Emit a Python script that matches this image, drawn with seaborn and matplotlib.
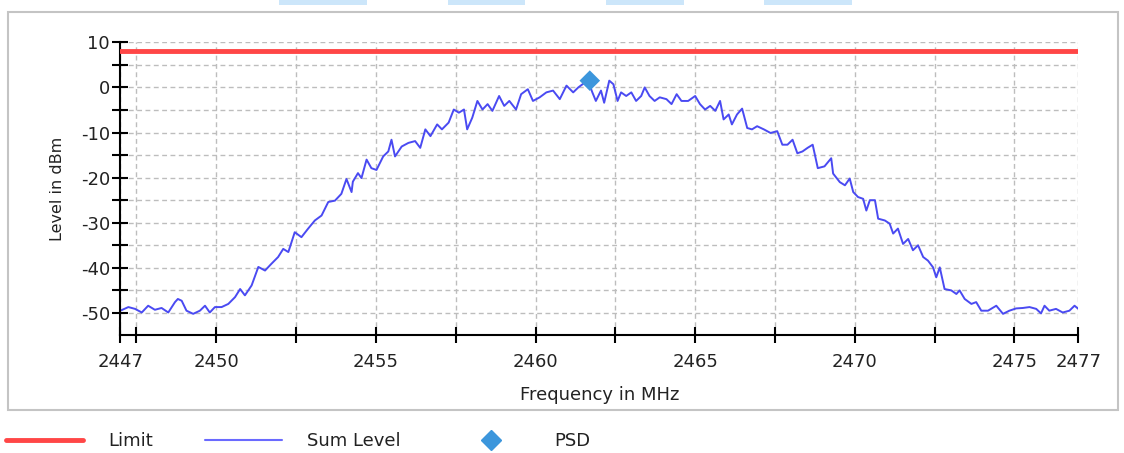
import seaborn as sns
import matplotlib.pyplot as plt
from matplotlib.lines import Line2D
from matplotlib.patches import Rectangle

# spectrum trace (MHz, dBm)
freq = [2447.0, 2447.25, 2447.46, 2447.67, 2447.87, 2448.08, 2448.29, 2448.5, 2448.71, 2448.8,
        2448.92, 2449.07, 2449.28, 2449.49, 2449.65, 2449.8, 2449.96, 2450.17, 2450.38, 2450.59,
        2450.75, 2450.9, 2451.11, 2451.32, 2451.53, 2451.73, 2451.94, 2452.1, 2452.26, 2452.46,
        2452.67, 2452.88, 2453.09, 2453.3, 2453.51, 2453.72, 2453.92, 2454.08, 2454.24,
        2454.28, 2454.44, 2454.55, 2454.71, 2454.86, 2455.02, 2455.23, 2455.39, 2455.49, 2455.6,
        2455.81, 2456.02, 2456.23, 2456.39, 2456.55, 2456.71, 2456.92, 2457.07, 2457.28, 2457.44,
        2457.6, 2457.76, 2457.86, 2458.02, 2458.18, 2458.34, 2458.5, 2458.65, 2458.86, 2459.02,
        2459.18, 2459.39, 2459.55, 2459.76, 2459.92, 2460.13, 2460.34, 2460.55, 2460.76, 2460.97,
        2461.18, 2461.34, 2461.55, 2461.68,
        2461.78, 2461.89, 2462.05, 2462.15, 2462.31, 2462.44, 2462.57, 2462.68, 2462.84, 2463.0,
        2463.15, 2463.31, 2463.42, 2463.57, 2463.73, 2463.89, 2464.1, 2464.26, 2464.42, 2464.57,
        2464.78, 2465.0, 2465.15, 2465.31, 2465.47, 2465.63, 2465.78, 2465.89, 2466.05, 2466.15,
        2466.31, 2466.47, 2466.63, 2466.78, 2466.94, 2467.15, 2467.36, 2467.57, 2467.73, 2467.89,
        2468.05, 2468.2, 2468.36, 2468.52, 2468.68, 2468.84, 2469.05, 2469.26,
        2469.32, 2469.53, 2469.69, 2469.84, 2469.95, 2470.1, 2470.26, 2470.36, 2470.47, 2470.63,
        2470.73, 2470.94, 2471.09, 2471.2, 2471.35, 2471.51, 2471.67, 2471.82, 2471.98, 2472.14,
        2472.29, 2472.45, 2472.55, 2472.66, 2472.81, 2473.02, 2473.18, 2473.28, 2473.44, 2473.65,
        2473.8, 2473.96, 2474.17, 2474.43, 2474.64, 2474.84, 2475.05, 2475.26, 2475.47, 2475.68,
        2475.83, 2475.94, 2476.09, 2476.3, 2476.51, 2476.72, 2476.88, 2477.0]
level = [-49.5, -48.7, -49.1, -49.9, -48.4, -49.3, -48.9, -49.9, -47.6, -46.9,
         -47.3, -49.5, -50.2, -49.5, -48.4, -49.9, -48.7, -48.7, -48.0, -46.5,
         -44.7, -46.1, -43.9, -39.8, -40.6, -39.1, -37.6, -35.8, -36.5, -32.1,
         -33.2, -31.3, -29.5, -28.4, -25.4, -25.1, -23.6, -20.3, -23.2,
         -20.9, -19.0, -20.1, -16.0, -17.9, -18.3, -15.3, -14.2, -11.6, -15.3,
         -13.1, -12.3, -11.9, -13.4, -9.3, -10.8, -8.2, -9.3, -7.8, -4.9,
         -5.6, -4.9, -9.3, -6.7, -3.0, -4.9, -3.7, -5.2, -1.9, -4.1,
         -3.0, -4.9, -1.5, -0.4, -3.0, -2.2, -1.1, -0.7, -2.6, 0.4,
         -1.1, 0.0, 1.1, 0.8,
         -1.1, -3.0, -0.7, -3.4, 1.5, 0.7, -3.0, -1.1, -1.9, -1.1,
         -3.0, -1.9, 0.0, -1.9, -3.0, -2.2, -2.6, -3.7, -1.5, -3.0,
         -3.0, -1.9, -3.7, -4.9, -4.1, -5.2, -3.0, -7.1, -6.0, -8.2,
         -6.0, -4.7, -9.0, -9.3, -8.6, -9.3, -10.1, -9.7, -12.7, -12.7,
         -11.6, -14.6, -14.2, -13.4, -12.7, -17.9, -17.5, -15.7,
         -19.1, -21.0, -21.7, -20.2, -23.2, -24.3, -24.7, -27.3, -25.0, -25.0,
         -29.1, -29.5, -30.2, -32.4, -31.3, -34.7, -33.6, -36.1, -35.0, -37.6,
         -38.4, -39.9, -42.1, -39.9, -44.7, -45.0, -45.8, -45.0, -46.9, -48.0,
         -47.6, -49.5, -49.5, -48.4, -50.2, -49.5, -49.0, -48.9, -48.7, -49.1,
         -50.1, -48.4, -49.5, -49.1, -49.9, -49.5, -48.4, -49.1]

limit_level = 8.0
psd_freq = [2461.7]
psd_level = [1.5]

x_ticks = [2447, 2447.5, 2450, 2452.5, 2455, 2457.5, 2460, 2462.5,
           2465, 2467.5, 2470, 2472.5, 2475, 2477]
x_labels = ['2447', '', '2450', '', '2455', '', '2460', '',
            '2465', '', '2470', '', '2475', '2477']
y_ticks = [-50, -45, -40, -35, -30, -25, -20, -15, -10, -5, 0, 5, 10]
y_labels = ['-50', '', '-40', '', '-30', '', '-20', '', '-10', '', '0', '', '10']

sns.set_style('white')
plt.rcParams['font.family'] = ['DejaVu Sans']
txt = '#222222'

fig = plt.figure(figsize=(11.24, 4.53), dpi=100)
ax = fig.add_axes([0.1071, 0.2594, 0.8523, 0.6472])

sns.lineplot(x=freq, y=level, color='#4a4af2', lw=1.4, ax=ax)
ax.axhline(limit_level, color='#ff4646', lw=3.5, zorder=3)
sns.scatterplot(x=psd_freq, y=psd_level, marker='D', s=110, color='#3c96dc',
                edgecolor='none', ax=ax, zorder=4)

ax.set_xlim(2447, 2477)
ax.set_ylim(-55, 10)
ax.set_xticks(x_ticks)
ax.set_xticklabels(x_labels)
ax.set_yticks(y_ticks)
ax.set_yticklabels(y_labels)

ax.set_axisbelow(True)
ax.grid(True, color='#bdbdbd', linestyle=(0, (3.5, 2.5)), lw=1)
sns.despine(ax=ax)
for s in ['left', 'bottom']:
    ax.spines[s].set_color('black')
    ax.spines[s].set_linewidth(1.5)
ax.tick_params(bottom=True, left=True, direction='inout', length=11, width=1.5,
               color='black', labelsize=13, labelcolor=txt)
ax.tick_params(axis='x', pad=7)
ax.tick_params(axis='y', pad=2)

ax.set_xlabel('Frequency in MHz', fontsize=13, color=txt)
ax.xaxis.set_label_coords(0.5, -0.203)
ax.xaxis.label.set_va('center')
ax.set_ylabel('Level in dBm', fontsize=11.5, color=txt)
ax.yaxis.set_label_coords(-0.066, 0.5)
ax.yaxis.label.set_va('center')

# panel frame and the bits of toolbar peeking in at the top
fig.add_artist(Rectangle((0.0071, 0.0949), 0.9875, 0.8786, transform=fig.transFigure,
                         fill=False, ec='#c4c4c4', lw=1.5))
for x0, x1 in [(279, 367), (448, 525), (606, 684), (764, 852)]:
    fig.add_artist(Rectangle((x0 / 1124, 1 - 5 / 453), (x1 - x0) / 1124, 5 / 453,
                             transform=fig.transFigure, color='#cce6fa', lw=0))

handles = [Line2D([], [], color='#ff4646', lw=3.5),
           Line2D([], [], color='#6a6aff', lw=1.5),
           Line2D([], [], ls='none', marker='D', ms=10, color='#3c96dc')]
fig.legend(handles, ['Limit', 'Sum Level', 'PSD'], loc='center left',
           bbox_to_anchor=(6 / 1124, 1 - 441 / 453), ncol=3, frameon=False,
           fontsize=13, labelcolor=txt, handlelength=4.26, handletextpad=1.38,
           columnspacing=2.9, borderpad=0, borderaxespad=0)

fig.savefig('out.png', dpi=100)
